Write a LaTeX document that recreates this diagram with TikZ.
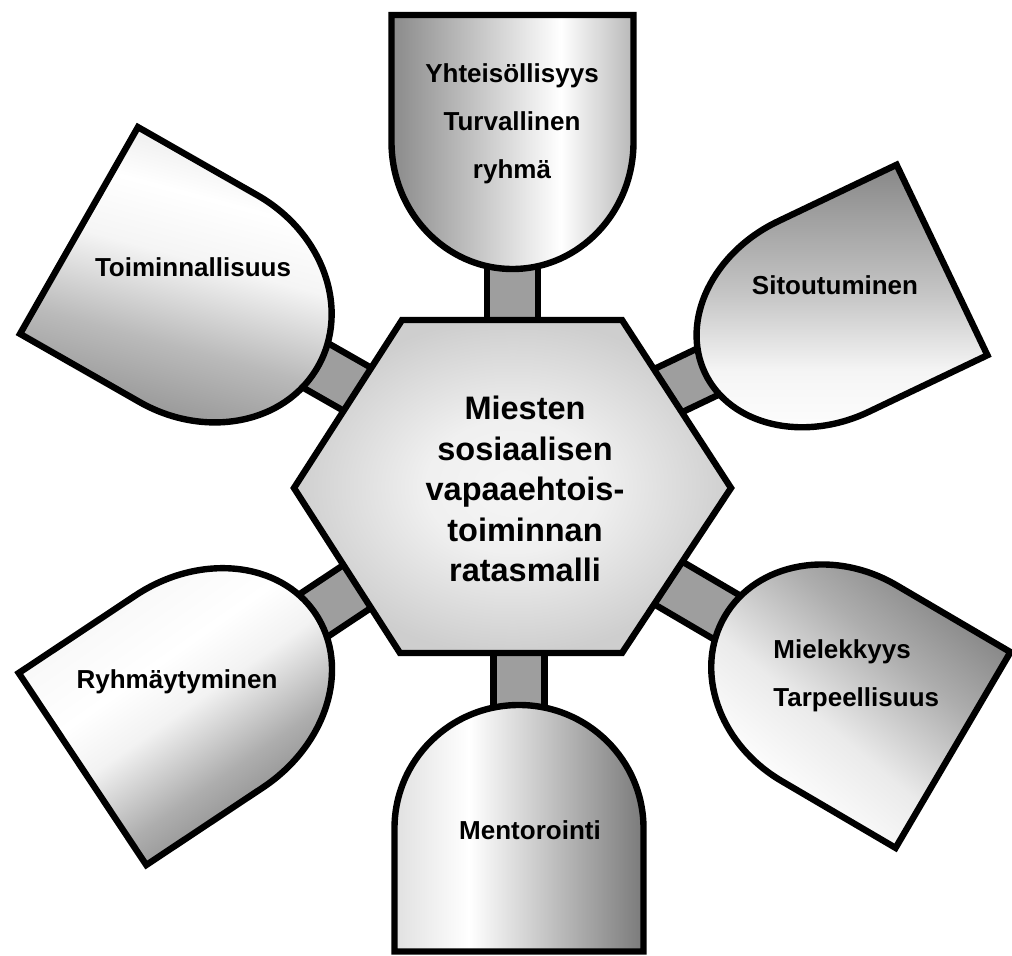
\documentclass[tikz,border=0pt]{standalone}
\usepackage{fontspec}
\setmainfont{Liberation Sans}
\definecolor{stemgray}{gray}{0.62}
% horizontal shadings (colour varies with x), bbox mapped to 25bp..75bp
\pgfdeclarehorizontalshading{topsh}{100bp}{color(0bp)=(black!46); color(25bp)=(black!46); color(60bp)=(white); color(75bp)=(black!28); color(100bp)=(black!28)}
\pgfdeclarehorizontalshading{botsh}{100bp}{color(0bp)=(black!12); color(25bp)=(black!12); color(40bp)=(white); color(75bp)=(black!52); color(100bp)=(black!52)}
% vertical shadings (0bp = bottom)
\pgfdeclareverticalshading{ulsh}{100bp}{color(0bp)=(black!48); color(22bp)=(black!48); color(40bp)=(black!27); color(54bp)=(black!4); color(64bp)=(white); color(80bp)=(black!13); color(100bp)=(black!13)}
\pgfdeclareverticalshading{ursh}{100bp}{color(0bp)=(white); color(25bp)=(white); color(38bp)=(black!4); color(52bp)=(black!23); color(75bp)=(black!47); color(100bp)=(black!47)}
\pgfdeclareverticalshading{llsh}{100bp}{color(0bp)=(black!58); color(22bp)=(black!56); color(38bp)=(black!32); color(50bp)=(black!5); color(58bp)=(white); color(85bp)=(black!6); color(100bp)=(black!6)}
\pgfdeclareverticalshading{lrsh}{100bp}{color(0bp)=(black!8); color(15bp)=(black!8); color(30bp)=(white); color(44bp)=(black!8); color(60bp)=(black!32); color(80bp)=(black!56); color(100bp)=(black!56)}
% radial shading for the hub
\pgfdeclareradialshading{hubsh}{\pgfpoint{0bp}{0bp}}{color(0bp)=(black!4); color(10bp)=(black!6); color(25bp)=(black!19); color(50bp)=(black!24)}
\tikzset{
  outline/.style={draw=black, line width=3.2pt, line join=miter},
  stembox/.style={outline, fill=stemgray},
  lbl/.style={font=\fontsize{13}{24}\selectfont\bfseries, text=black, inner sep=0pt},
  hexlbl/.style={font=\fontsize{16.25}{20.25}\selectfont\bfseries, text=black, align=center, inner sep=0pt}
}
% #1 flat-edge midpoint, #2 axis angle, #3 length, #4 width, #5 shading options
\newcommand\petalshape[5]{%
  \begin{scope}[shift={#1}, rotate=#2]
    \draw[stembox] ({#3-25},-25.5) rectangle ({#3+95},25.5);
    \shadedraw[outline, #5] (0,{-#4/2}) -- ({#3/2},{-#4/2})
      arc[start angle=-90, end angle=90, x radius={#3/2}, y radius={#4/2}]
      -- (0,{#4/2}) -- cycle;
  \end{scope}}
\begin{document}
\begin{tikzpicture}[x=0.5pt, y=-0.5pt]
  \useasboundingbox (0,0) rectangle (1012,956);
  \petalshape{(512.5,15)}{-90}{254}{242}{shading=topsh}
  \petalshape{(519,951.5)}{90}{246.5}{249}{shading=botsh}
  \petalshape{(79,230.5)}{-29.7}{275}{238}{shading=ulsh, shading angle=-15}
  \petalshape{(942,260)}{-154.5}{262.6}{211}{shading=ursh}
  \petalshape{(82.5,769)}{33.6}{280}{230.5}{shading=llsh, shading angle=35}
  \petalshape{(953,750)}{149.6}{264.5}{227}{shading=lrsh, shading angle=-40}
  \shadedraw[outline, shading=hubsh]
    (402,320) -- (622,320) -- (731,488) -- (622,653) -- (400,653) -- (294,488) -- cycle;
  \node[hexlbl] (hub) at (525,489) {Miesten\\sosiaalisen\\vapaaehtois-\\toiminnan\\ratasmalli};
  \node[lbl, align=center] (yht) at (512,124) {Yhteisöllisyys\\Turvallinen\\ryhmä};
  \node[lbl] (toim) at (193,267) {Toiminnallisuus};
  \node[lbl] (sit) at (835,285) {Sitoutuminen};
  \node[lbl] (ryh) at (177,682) {Ryhmäytyminen};
  \node[lbl, align=left, anchor=west] (miel) at (773,676) {Mielekkyys\\Tarpeellisuus};
  \node[lbl] (ment) at (530,830) {Mentorointi};
\end{tikzpicture}
\end{document}
